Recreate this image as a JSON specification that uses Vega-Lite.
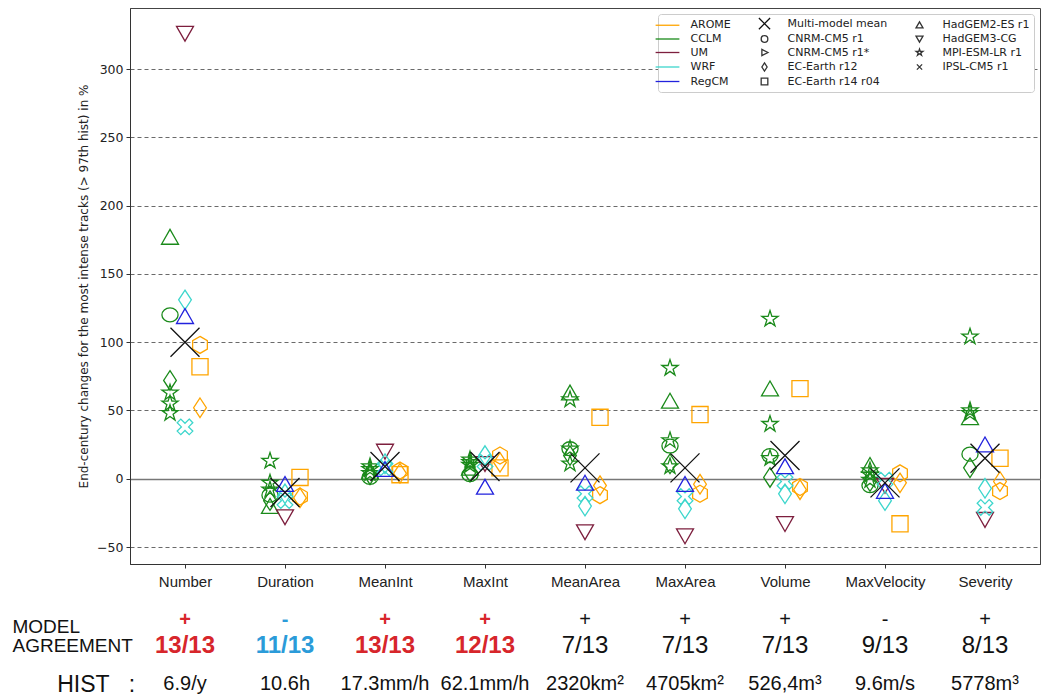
{
  "$schema": "https://vega.github.io/schema/vega-lite/v6.json",
  "padding": {"left": 12, "top": 7, "right": 0, "bottom": 0},
  "bounds": "flush",
  "spacing": 56,
  "config": {
    "view": {"stroke": "#444", "strokeWidth": 1},
    "font": "DejaVu Sans",
    "axis": {"domainColor": "#333", "tickColor": "#333", "labelColor": "#222", "titleColor": "#222"}
  },
  "datasets": {
    "points": [
      {"variable": "Number", "rcm": "AROME", "gcm": "CNRM-CM5 r1*", "value": 98},
      {"variable": "Number", "rcm": "AROME", "gcm": "EC-Earth r12", "value": 52},
      {"variable": "Number", "rcm": "AROME", "gcm": "EC-Earth r14 r04", "value": 82},
      {"variable": "Number", "rcm": "CCLM", "gcm": "CNRM-CM5 r1", "value": 120},
      {"variable": "Number", "rcm": "CCLM", "gcm": "EC-Earth r12", "value": 72},
      {"variable": "Number", "rcm": "CCLM", "gcm": "HadGEM2-ES r1", "value": 177},
      {"variable": "Number", "rcm": "CCLM", "gcm": "MPI-ESM-LR r1", "value": 63},
      {"variable": "Number", "rcm": "CCLM", "gcm": "MPI-ESM-LR r1", "value": 55},
      {"variable": "Number", "rcm": "CCLM", "gcm": "MPI-ESM-LR r1", "value": 48},
      {"variable": "Number", "rcm": "UM", "gcm": "HadGEM3-CG", "value": 326},
      {"variable": "Number", "rcm": "WRF", "gcm": "EC-Earth r12", "value": 131},
      {"variable": "Number", "rcm": "WRF", "gcm": "IPSL-CM5 r1", "value": 38},
      {"variable": "Number", "rcm": "RegCM", "gcm": "HadGEM2-ES r1", "value": 119},
      {"variable": "Number", "rcm": "Mean", "gcm": "Multi-model mean", "value": 100},

      {"variable": "Duration", "rcm": "AROME", "gcm": "CNRM-CM5 r1*", "value": -13},
      {"variable": "Duration", "rcm": "AROME", "gcm": "EC-Earth r12", "value": -14},
      {"variable": "Duration", "rcm": "AROME", "gcm": "EC-Earth r14 r04", "value": 1},
      {"variable": "Duration", "rcm": "CCLM", "gcm": "CNRM-CM5 r1", "value": -12},
      {"variable": "Duration", "rcm": "CCLM", "gcm": "EC-Earth r12", "value": -16},
      {"variable": "Duration", "rcm": "CCLM", "gcm": "HadGEM2-ES r1", "value": -20},
      {"variable": "Duration", "rcm": "CCLM", "gcm": "MPI-ESM-LR r1", "value": 13},
      {"variable": "Duration", "rcm": "CCLM", "gcm": "MPI-ESM-LR r1", "value": -3},
      {"variable": "Duration", "rcm": "CCLM", "gcm": "MPI-ESM-LR r1", "value": -8},
      {"variable": "Duration", "rcm": "UM", "gcm": "HadGEM3-CG", "value": -28},
      {"variable": "Duration", "rcm": "WRF", "gcm": "EC-Earth r12", "value": -11},
      {"variable": "Duration", "rcm": "WRF", "gcm": "IPSL-CM5 r1", "value": -16},
      {"variable": "Duration", "rcm": "RegCM", "gcm": "HadGEM2-ES r1", "value": -4},
      {"variable": "Duration", "rcm": "Mean", "gcm": "Multi-model mean", "value": -10},

      {"variable": "MeanInt", "rcm": "AROME", "gcm": "CNRM-CM5 r1*", "value": 6},
      {"variable": "MeanInt", "rcm": "AROME", "gcm": "EC-Earth r12", "value": 4},
      {"variable": "MeanInt", "rcm": "AROME", "gcm": "EC-Earth r14 r04", "value": 3},
      {"variable": "MeanInt", "rcm": "CCLM", "gcm": "CNRM-CM5 r1", "value": 1},
      {"variable": "MeanInt", "rcm": "CCLM", "gcm": "EC-Earth r12", "value": 3},
      {"variable": "MeanInt", "rcm": "CCLM", "gcm": "HadGEM2-ES r1", "value": 5},
      {"variable": "MeanInt", "rcm": "CCLM", "gcm": "MPI-ESM-LR r1", "value": 9},
      {"variable": "MeanInt", "rcm": "CCLM", "gcm": "MPI-ESM-LR r1", "value": 7},
      {"variable": "MeanInt", "rcm": "CCLM", "gcm": "MPI-ESM-LR r1", "value": 4},
      {"variable": "MeanInt", "rcm": "UM", "gcm": "HadGEM3-CG", "value": 20},
      {"variable": "MeanInt", "rcm": "WRF", "gcm": "EC-Earth r12", "value": 11},
      {"variable": "MeanInt", "rcm": "WRF", "gcm": "IPSL-CM5 r1", "value": 8},
      {"variable": "MeanInt", "rcm": "RegCM", "gcm": "HadGEM2-ES r1", "value": 7},
      {"variable": "MeanInt", "rcm": "Mean", "gcm": "Multi-model mean", "value": 9},

      {"variable": "MaxInt", "rcm": "AROME", "gcm": "CNRM-CM5 r1*", "value": 17},
      {"variable": "MaxInt", "rcm": "AROME", "gcm": "EC-Earth r12", "value": 12},
      {"variable": "MaxInt", "rcm": "AROME", "gcm": "EC-Earth r14 r04", "value": 8},
      {"variable": "MaxInt", "rcm": "CCLM", "gcm": "CNRM-CM5 r1", "value": 3},
      {"variable": "MaxInt", "rcm": "CCLM", "gcm": "EC-Earth r12", "value": 5},
      {"variable": "MaxInt", "rcm": "CCLM", "gcm": "HadGEM2-ES r1", "value": 8},
      {"variable": "MaxInt", "rcm": "CCLM", "gcm": "MPI-ESM-LR r1", "value": 14},
      {"variable": "MaxInt", "rcm": "CCLM", "gcm": "MPI-ESM-LR r1", "value": 12},
      {"variable": "MaxInt", "rcm": "CCLM", "gcm": "MPI-ESM-LR r1", "value": 10},
      {"variable": "MaxInt", "rcm": "UM", "gcm": "HadGEM3-CG", "value": 11},
      {"variable": "MaxInt", "rcm": "WRF", "gcm": "EC-Earth r12", "value": 17},
      {"variable": "MaxInt", "rcm": "WRF", "gcm": "IPSL-CM5 r1", "value": 12},
      {"variable": "MaxInt", "rcm": "RegCM", "gcm": "HadGEM2-ES r1", "value": -6},
      {"variable": "MaxInt", "rcm": "Mean", "gcm": "Multi-model mean", "value": 9},

      {"variable": "MeanArea", "rcm": "AROME", "gcm": "CNRM-CM5 r1*", "value": -12},
      {"variable": "MeanArea", "rcm": "AROME", "gcm": "EC-Earth r12", "value": -5},
      {"variable": "MeanArea", "rcm": "AROME", "gcm": "EC-Earth r14 r04", "value": 45},
      {"variable": "MeanArea", "rcm": "CCLM", "gcm": "CNRM-CM5 r1", "value": 22},
      {"variable": "MeanArea", "rcm": "CCLM", "gcm": "EC-Earth r12", "value": 17},
      {"variable": "MeanArea", "rcm": "CCLM", "gcm": "HadGEM2-ES r1", "value": 63},
      {"variable": "MeanArea", "rcm": "CCLM", "gcm": "MPI-ESM-LR r1", "value": 58},
      {"variable": "MeanArea", "rcm": "CCLM", "gcm": "MPI-ESM-LR r1", "value": 22},
      {"variable": "MeanArea", "rcm": "CCLM", "gcm": "MPI-ESM-LR r1", "value": 11},
      {"variable": "MeanArea", "rcm": "UM", "gcm": "HadGEM3-CG", "value": -39},
      {"variable": "MeanArea", "rcm": "WRF", "gcm": "EC-Earth r12", "value": -20},
      {"variable": "MeanArea", "rcm": "WRF", "gcm": "IPSL-CM5 r1", "value": -11},
      {"variable": "MeanArea", "rcm": "RegCM", "gcm": "HadGEM2-ES r1", "value": -3},
      {"variable": "MeanArea", "rcm": "Mean", "gcm": "Multi-model mean", "value": 8},

      {"variable": "MaxArea", "rcm": "AROME", "gcm": "CNRM-CM5 r1*", "value": -11},
      {"variable": "MaxArea", "rcm": "AROME", "gcm": "EC-Earth r12", "value": -4},
      {"variable": "MaxArea", "rcm": "AROME", "gcm": "EC-Earth r14 r04", "value": 47},
      {"variable": "MaxArea", "rcm": "CCLM", "gcm": "CNRM-CM5 r1", "value": 24},
      {"variable": "MaxArea", "rcm": "CCLM", "gcm": "EC-Earth r12", "value": 11},
      {"variable": "MaxArea", "rcm": "CCLM", "gcm": "HadGEM2-ES r1", "value": 57},
      {"variable": "MaxArea", "rcm": "CCLM", "gcm": "MPI-ESM-LR r1", "value": 81},
      {"variable": "MaxArea", "rcm": "CCLM", "gcm": "MPI-ESM-LR r1", "value": 28},
      {"variable": "MaxArea", "rcm": "CCLM", "gcm": "MPI-ESM-LR r1", "value": 9},
      {"variable": "MaxArea", "rcm": "UM", "gcm": "HadGEM3-CG", "value": -42},
      {"variable": "MaxArea", "rcm": "WRF", "gcm": "EC-Earth r12", "value": -22},
      {"variable": "MaxArea", "rcm": "WRF", "gcm": "IPSL-CM5 r1", "value": -13},
      {"variable": "MaxArea", "rcm": "RegCM", "gcm": "HadGEM2-ES r1", "value": -4},
      {"variable": "MaxArea", "rcm": "Mean", "gcm": "Multi-model mean", "value": 8},

      {"variable": "Volume", "rcm": "AROME", "gcm": "CNRM-CM5 r1*", "value": -6},
      {"variable": "Volume", "rcm": "AROME", "gcm": "EC-Earth r12", "value": -8},
      {"variable": "Volume", "rcm": "AROME", "gcm": "EC-Earth r14 r04", "value": 66},
      {"variable": "Volume", "rcm": "CCLM", "gcm": "CNRM-CM5 r1", "value": 17},
      {"variable": "Volume", "rcm": "CCLM", "gcm": "EC-Earth r12", "value": 1},
      {"variable": "Volume", "rcm": "CCLM", "gcm": "HadGEM2-ES r1", "value": 66},
      {"variable": "Volume", "rcm": "CCLM", "gcm": "MPI-ESM-LR r1", "value": 117},
      {"variable": "Volume", "rcm": "CCLM", "gcm": "MPI-ESM-LR r1", "value": 40},
      {"variable": "Volume", "rcm": "CCLM", "gcm": "MPI-ESM-LR r1", "value": 15},
      {"variable": "Volume", "rcm": "UM", "gcm": "HadGEM3-CG", "value": -33},
      {"variable": "Volume", "rcm": "WRF", "gcm": "EC-Earth r12", "value": -11},
      {"variable": "Volume", "rcm": "WRF", "gcm": "IPSL-CM5 r1", "value": -2},
      {"variable": "Volume", "rcm": "RegCM", "gcm": "HadGEM2-ES r1", "value": 9},
      {"variable": "Volume", "rcm": "Mean", "gcm": "Multi-model mean", "value": 17},

      {"variable": "MaxVelocity", "rcm": "AROME", "gcm": "CNRM-CM5 r1*", "value": 4},
      {"variable": "MaxVelocity", "rcm": "AROME", "gcm": "EC-Earth r12", "value": -3},
      {"variable": "MaxVelocity", "rcm": "AROME", "gcm": "EC-Earth r14 r04", "value": -33},
      {"variable": "MaxVelocity", "rcm": "CCLM", "gcm": "CNRM-CM5 r1", "value": -5},
      {"variable": "MaxVelocity", "rcm": "CCLM", "gcm": "EC-Earth r12", "value": -2},
      {"variable": "MaxVelocity", "rcm": "CCLM", "gcm": "HadGEM2-ES r1", "value": 10},
      {"variable": "MaxVelocity", "rcm": "CCLM", "gcm": "MPI-ESM-LR r1", "value": 6},
      {"variable": "MaxVelocity", "rcm": "CCLM", "gcm": "MPI-ESM-LR r1", "value": -1},
      {"variable": "MaxVelocity", "rcm": "CCLM", "gcm": "MPI-ESM-LR r1", "value": 3},
      {"variable": "MaxVelocity", "rcm": "UM", "gcm": "HadGEM3-CG", "value": -5},
      {"variable": "MaxVelocity", "rcm": "WRF", "gcm": "EC-Earth r12", "value": -16},
      {"variable": "MaxVelocity", "rcm": "WRF", "gcm": "IPSL-CM5 r1", "value": -1},
      {"variable": "MaxVelocity", "rcm": "RegCM", "gcm": "HadGEM2-ES r1", "value": -9},
      {"variable": "MaxVelocity", "rcm": "Mean", "gcm": "Multi-model mean", "value": -3},

      {"variable": "Severity", "rcm": "AROME", "gcm": "CNRM-CM5 r1*", "value": -9},
      {"variable": "Severity", "rcm": "AROME", "gcm": "EC-Earth r12", "value": -2},
      {"variable": "Severity", "rcm": "AROME", "gcm": "EC-Earth r14 r04", "value": 15},
      {"variable": "Severity", "rcm": "CCLM", "gcm": "CNRM-CM5 r1", "value": 18},
      {"variable": "Severity", "rcm": "CCLM", "gcm": "EC-Earth r12", "value": 8},
      {"variable": "Severity", "rcm": "CCLM", "gcm": "HadGEM2-ES r1", "value": 45},
      {"variable": "Severity", "rcm": "CCLM", "gcm": "MPI-ESM-LR r1", "value": 104},
      {"variable": "Severity", "rcm": "CCLM", "gcm": "MPI-ESM-LR r1", "value": 50},
      {"variable": "Severity", "rcm": "CCLM", "gcm": "MPI-ESM-LR r1", "value": 48},
      {"variable": "Severity", "rcm": "UM", "gcm": "HadGEM3-CG", "value": -30},
      {"variable": "Severity", "rcm": "WRF", "gcm": "EC-Earth r12", "value": -7},
      {"variable": "Severity", "rcm": "WRF", "gcm": "IPSL-CM5 r1", "value": -21},
      {"variable": "Severity", "rcm": "RegCM", "gcm": "HadGEM2-ES r1", "value": 25},
      {"variable": "Severity", "rcm": "Mean", "gcm": "Multi-model mean", "value": 15}
    ],
    "legendkeys": [
      {"key": "AROME"}, {"key": "CCLM"}, {"key": "UM"}, {"key": "WRF"}, {"key": "RegCM"},
      {"key": "Multi-model mean"}, {"key": "CNRM-CM5 r1"}, {"key": "CNRM-CM5 r1*"}, {"key": "EC-Earth r12"}, {"key": "EC-Earth r14 r04"},
      {"key": "HadGEM2-ES r1"}, {"key": "HadGEM3-CG"}, {"key": "MPI-ESM-LR r1"}, {"key": "IPSL-CM5 r1"}
    ],
    "table": [
      {"variable": "Number", "sign": "+", "agree": "13/13", "hist": "6.9/y", "cat": "pos"},
      {"variable": "Duration", "sign": "-", "agree": "11/13", "hist": "10.6h", "cat": "neg"},
      {"variable": "MeanInt", "sign": "+", "agree": "13/13", "hist": "17.3mm/h", "cat": "pos"},
      {"variable": "MaxInt", "sign": "+", "agree": "12/13", "hist": "62.1mm/h", "cat": "pos"},
      {"variable": "MeanArea", "sign": "+", "agree": "7/13", "hist": "2320km²", "cat": "weak"},
      {"variable": "MaxArea", "sign": "+", "agree": "7/13", "hist": "4705km²", "cat": "weak"},
      {"variable": "Volume", "sign": "+", "agree": "7/13", "hist": "526,4m³", "cat": "weak"},
      {"variable": "MaxVelocity", "sign": "-", "agree": "9/13", "hist": "9.6m/s", "cat": "weak"},
      {"variable": "Severity", "sign": "+", "agree": "8/13", "hist": "5778m³", "cat": "weak"}
    ]
  },
  "vconcat": [
    {
      "width": 910,
      "height": 556,
      "layer": [
        {
          "data": {"name": "points"},
          "transform": [{"calculate": "datum.rcm === 'CCLM' ? 'L' : (datum.rcm === 'AROME' ? 'R' : 'C')", "as": "slot"}],
          "mark": {"type": "point", "filled": false, "strokeWidth": 1.3, "opacity": 1},
          "encoding": {
            "x": {
              "field": "variable", "type": "nominal",
              "scale": {"type": "point", "padding": 0.55, "domain": ["Number", "Duration", "MeanInt", "MaxInt", "MeanArea", "MaxArea", "Volume", "MaxVelocity", "Severity"]},
              "axis": {"title": null, "labelFont": "Liberation Sans", "labelFontSize": 15, "labelColor": "#222", "tickSize": 4, "labelPadding": 6, "labelAngle": 0, "grid": false}
            },
            "xOffset": {"field": "slot", "type": "nominal", "scale": {"type": "point", "padding": 0, "domain": ["L", "C", "R"], "range": [-15, 15]}},
            "y": {
              "field": "value", "type": "quantitative",
              "scale": {"domain": [-62.4, 344.7], "nice": false, "zero": false},
              "axis": {
                "title": "End-century changes for the most intense tracks (> 97th hist) in %",
                "titleFont": "DejaVu Sans", "titleFontSize": 12, "titleFontWeight": "normal", "titlePadding": 6,
                "labelFont": "DejaVu Sans", "labelFontSize": 12.5, "labelPadding": 3, "tickSize": 4,
                "values": [-50, 0, 50, 100, 150, 200, 250, 300],
                "grid": true,
                "gridColor": {"condition": {"test": "datum.value === 0", "value": "#777"}, "value": "#6a6a6a"},
                "gridWidth": {"condition": {"test": "datum.value === 0", "value": 1.5}, "value": 1},
                "gridDash": {"condition": {"test": "datum.value === 0", "value": []}, "value": [4, 3]}
              }
            },
            "color": {
              "field": "rcm", "type": "nominal",
              "scale": {"domain": ["AROME", "CCLM", "UM", "WRF", "RegCM", "Mean"], "range": ["#FFA500", "#1a8a1a", "#7d1f3e", "#3dd6cc", "#2222dd", "#111111"]},
              "legend": null
            },
            "shape": {
              "field": "gcm", "type": "nominal",
              "scale": {
                "domain": ["Multi-model mean", "CNRM-CM5 r1", "CNRM-CM5 r1*", "EC-Earth r12", "EC-Earth r14 r04", "HadGEM2-ES r1", "HadGEM3-CG", "MPI-ESM-LR r1", "IPSL-CM5 r1"],
                "range": [
                  "M -1 -1 L 1 1 M -1 1 L 1 -1",
                  "M 0.95 0 A 0.95 0.82 0 1 1 -0.95 0 A 0.95 0.82 0 1 1 0.95 0 Z",
                  "M 0 -1 L 0.866 -0.5 L 0.866 0.5 L 0 1 L -0.866 0.5 L -0.866 -0.5 Z",
                  "M 0 -1.15 L 0.75 0 L 0 1.15 L -0.75 0 Z",
                  "M -0.95 -0.95 L 0.95 -0.95 L 0.95 0.95 L -0.95 0.95 Z",
                  "M 0 -0.9 L 1 0.85 L -1 0.85 Z",
                  "M 0 0.9 L 1 -0.85 L -1 -0.85 Z",
                  "M 0 -1 L 0.2245 -0.309 L 0.951 -0.309 L 0.363 0.118 L 0.588 0.809 L 0 0.382 L -0.588 0.809 L -0.363 0.118 L -0.951 -0.309 L -0.2245 -0.309 Z",
                  "M 0.495 -0.919 L 0.919 -0.495 L 0.424 0 L 0.919 0.495 L 0.495 0.919 L 0 0.424 L -0.495 0.919 L -0.919 0.495 L -0.424 0 L -0.919 -0.495 L -0.495 -0.919 L 0 -0.424 Z"
                ]
              },
              "legend": null
            },
            "size": {"condition": {"test": "datum.gcm === 'Multi-model mean'", "value": 841}, "value": 289}
          }
        },
        {
          "data": {"name": "legendkeys"},
          "mark": {"type": "point", "filled": false, "opacity": 0},
          "encoding": {
            "color": {
              "field": "key", "type": "nominal",
              "scale": {
                "domain": ["AROME", "CCLM", "UM", "WRF", "RegCM", "Multi-model mean", "CNRM-CM5 r1", "CNRM-CM5 r1*", "EC-Earth r12", "EC-Earth r14 r04", "HadGEM2-ES r1", "HadGEM3-CG", "MPI-ESM-LR r1", "IPSL-CM5 r1"],
                "range": ["#FFA500", "#1a8a1a", "#7d1f3e", "#3dd6cc", "#2222dd", "#111111", "#333333", "#333333", "#333333", "#333333", "#333333", "#333333", "#333333", "#333333"]
              },
              "legend": {
                "orient": "none", "legendX": 528, "legendY": 6, "title": null,
                "columns": 3, "columnPadding": 25, "rowPadding": 0.5, "padding": 4,
                "symbolSize": 49, "symbolStrokeWidth": 1.3,
                "labelFont": "DejaVu Sans", "labelFontSize": 11, "labelColor": "#222", "labelOffset": 17.5, "labelLimit": 200,
                "strokeColor": "#cccccc", "fillColor": "#ffffff", "cornerRadius": 3,
                "symbolOpacity": 1,
                "encode": {"symbols": {"update": {"opacity": {"value": 1}, "fill": {"value": "transparent"}}}}
              }
            },
            "shape": {
              "field": "key", "type": "nominal",
              "scale": {
                "domain": ["AROME", "CCLM", "UM", "WRF", "RegCM", "Multi-model mean", "CNRM-CM5 r1", "CNRM-CM5 r1*", "EC-Earth r12", "EC-Earth r14 r04", "HadGEM2-ES r1", "HadGEM3-CG", "MPI-ESM-LR r1", "IPSL-CM5 r1"],
                "range": [
                  "M -3.4 0 L 3.4 0",
                  "M -3.4 0 L 3.4 0",
                  "M -3.4 0 L 3.4 0",
                  "M -3.4 0 L 3.4 0",
                  "M -3.4 0 L 3.4 0",
                  "M -1.6 -1.6 L 1.6 1.6 M -1.6 1.6 L 1.6 -1.6",
                  "M 0.95 0 A 0.95 0.95 0 1 1 -0.95 0 A 0.95 0.95 0 1 1 0.95 0 Z",
                  "M 1 0 L -0.75 -0.9 L -0.75 0.9 Z",
                  "M 0 -1.15 L 0.75 0 L 0 1.15 L -0.75 0 Z",
                  "M -0.95 -0.95 L 0.95 -0.95 L 0.95 0.95 L -0.95 0.95 Z",
                  "M 0 -0.9 L 1 0.85 L -1 0.85 Z",
                  "M 0 0.9 L 1 -0.85 L -1 -0.85 Z",
                  "M 0 -1 L 0.2245 -0.309 L 0.951 -0.309 L 0.363 0.118 L 0.588 0.809 L 0 0.382 L -0.588 0.809 L -0.363 0.118 L -0.951 -0.309 L -0.2245 -0.309 Z",
                  "M -0.75 -0.75 L 0.75 0.75 M -0.75 0.75 L 0.75 -0.75"
                ]
              }
            }
          }
        }
      ],
      "resolve": {"scale": {"color": "independent", "shape": "independent"}}
    },
    {
      "width": 910,
      "height": 64,
      "view": {"stroke": null},
      "data": {"name": "table"},
      "transform": [{"fold": ["sign", "agree", "hist"], "as": ["row", "txt"]}],
      "encoding": {
        "x": {
          "field": "variable", "type": "nominal",
          "scale": {"type": "point", "padding": 0.55, "domain": ["Number", "Duration", "MeanInt", "MaxInt", "MeanArea", "MaxArea", "Volume", "MaxVelocity", "Severity"]},
          "axis": null
        },
        "y": {
          "field": "row", "type": "nominal",
          "scale": {"type": "point", "padding": 0, "domain": ["sign", "model", "s2", "s3", "agree", "s5", "s6", "s7", "s8", "s9", "hist"]},
          "axis": {
            "title": null, "ticks": false, "tickSize": 0, "domain": false, "grid": false,
            "labelAlign": "left", "labelPadding": 118, "labelFont": "Liberation Sans",
            "labelFontSize": {"condition": {"test": "datum.value === 'hist'", "value": 23}, "value": 19},
            "labelColor": "#111", "labelOverlap": false, "labelBound": false, "labelLimit": 300,
            "labelExpr": "datum.value === 'model' ? 'MODEL' : (datum.value === 'agree' ? 'AGREEMENT' : (datum.value === 'hist' ? '\u200b\u00a0\u00a0\u00a0\u00a0\u00a0\u00a0\u00a0HIST\u00a0\u00a0\u00a0:' : ''))"
          }
        }
      },
      "layer": [
        {
          "transform": [{"filter": "datum.row !== 'hist' && datum.cat !== 'weak'"}],
          "mark": {"type": "text", "font": "Liberation Sans", "fontWeight": "bold", "baseline": "middle", "align": "center"},
          "encoding": {
            "text": {"field": "txt", "type": "nominal"},
            "color": {"field": "cat", "type": "nominal", "scale": {"domain": ["pos", "neg"], "range": ["#d7262b", "#2b9bd9"]}, "legend": null},
            "size": {"condition": {"test": "datum.row === 'agree'", "value": 24}, "value": 20}
          }
        },
        {
          "transform": [{"filter": "datum.row === 'hist' || datum.cat === 'weak'"}],
          "mark": {"type": "text", "font": "Liberation Sans", "baseline": "middle", "align": "center", "color": "#111"},
          "encoding": {
            "text": {"field": "txt", "type": "nominal"},
            "size": {"condition": {"test": "datum.row === 'agree'", "value": 24}, "value": 20}
          }
        }
      ]
    }
  ]
}
